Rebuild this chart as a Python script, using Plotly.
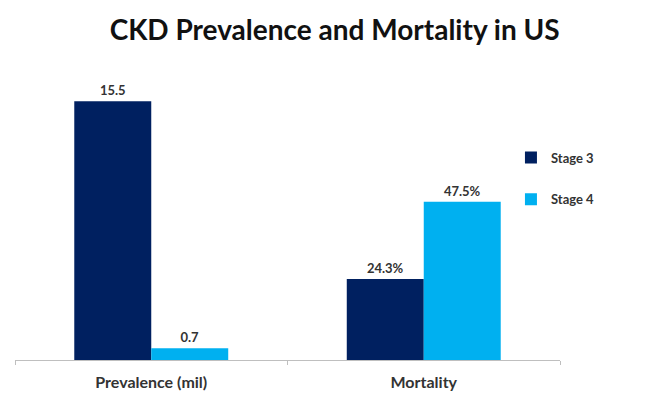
import plotly.graph_objects as go

categories = ["Prevalence (mil)", "Mortality"]
series_names = ["Stage 3", "Stage 4"]
stage3 = [15.5, 24.3]
stage4 = [0.7, 47.5]
label_suffix = ["", "%"]
colors = ["#002060", "#00B0F0"]

FONT = "Lato"
fig = go.Figure()
for s_idx, (name, vals) in enumerate(zip(series_names, [stage3, stage4])):
    for c_idx, cat in enumerate(categories):
        fig.add_trace(go.Bar(
            x=[cat], y=[vals[c_idx]],
            name=name,
            yaxis="y" if c_idx == 0 else "y2",
            offsetgroup=name, alignmentgroup="a",
            marker=dict(color=colors[s_idx], line=dict(width=0)),
            texttemplate="%{y:.1f}" + label_suffix[c_idx],
            textposition="outside", cliponaxis=False,
            textfont=dict(family=FONT, size=13, color="#333333", weight="bold"),
            legendgroup=name, showlegend=(c_idx == 0),
            hoverinfo="skip",
        ))

# page body has an 8px margin; figure is sized/offset to compensate
fig.update_layout(
    width=643, height=396,
    margin=dict(l=7, r=91, t=62, b=44),
    paper_bgcolor="white", plot_bgcolor="white",
    barmode="group", bargap=0.435, bargroupgap=0,
    title=dict(text="<b>CKD Prevalence and Mortality in US</b>", x=0.508, xref="container",
               xanchor="center", y=0.945, yref="container", yanchor="middle",
               font=dict(family=FONT, size=28, color="#111111")),
    xaxis=dict(categoryorder="array", categoryarray=categories,
               showline=True, linecolor="#BFBFBF", linewidth=1,
               ticks="outside", tickson="boundaries", ticklen=4, tickcolor="#BFBFBF",
               ticklabelstandoff=8,
               tickfont=dict(family=FONT, size=16, color="#333333", weight="bold"),
               showgrid=False),
    yaxis=dict(range=[0, 17.37], visible=False, showgrid=False),
    yaxis2=dict(range=[0, 87.1], visible=False, showgrid=False, overlaying="y"),
    legend=dict(x=0.91, y=0.75, xanchor="left", yanchor="top",
                font=dict(family=FONT, size=13, color="#333333", weight="bold"),
                tracegroupgap=22, itemwidth=30, bgcolor="rgba(0,0,0,0)"),
    showlegend=True,
)
fig.write_html("out.html")
